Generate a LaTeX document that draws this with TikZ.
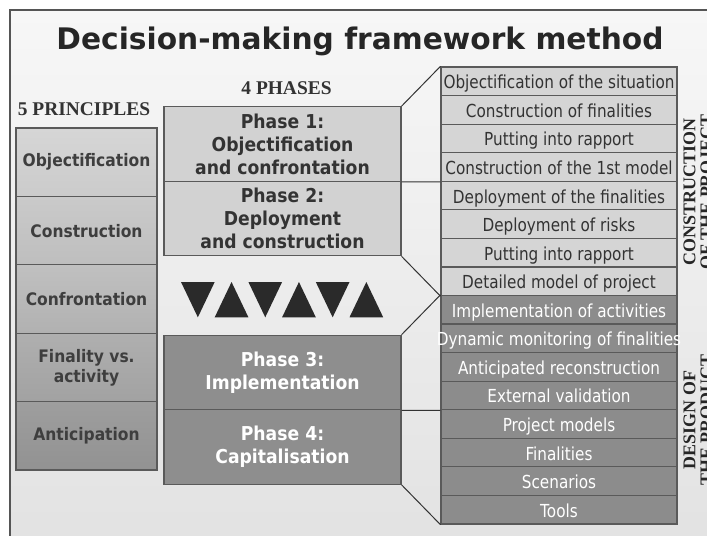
\documentclass[tikz,border=0pt]{standalone}
\usepackage{fontspec}
\setmainfont{DejaVu Sans}
\newfontfamily\titlefont{DejaVu Sans}
\newfontfamily\boxfont{DejaVu Sans}[FakeStretch=0.9]
\newfontfamily\rowfont{DejaVu Sans}[FakeStretch=0.85]
\newfontfamily\serifbold{Liberation Serif}
\definecolor{framecol}{HTML}{555555}
\definecolor{bgtop}{HTML}{F7F7F7}
\definecolor{bgbot}{HTML}{E2E2E2}
\definecolor{lightfill}{HTML}{D2D2D2}
\definecolor{darkfill}{HTML}{8E8E8E}
\definecolor{rowlightfill}{HTML}{D5D5D5}
\definecolor{rowdarkfill}{HTML}{8C8C8C}
\definecolor{edgecol}{HTML}{5A5A5A}
\definecolor{txtdark}{HTML}{333333}
\definecolor{princtxt}{HTML}{3E3E3E}
\definecolor{tricol}{HTML}{2A2A2A}
\definecolor{conncol}{HTML}{333333}
\definecolor{pAt}{HTML}{D6D6D6}\definecolor{pAb}{HTML}{CBCBCB}
\definecolor{pBt}{HTML}{CACACA}\definecolor{pBb}{HTML}{BEBEBE}
\definecolor{pCt}{HTML}{C0C0C0}\definecolor{pCb}{HTML}{B1B1B1}
\definecolor{pDt}{HTML}{AFAFAF}\definecolor{pDb}{HTML}{A2A2A2}
\definecolor{pEt}{HTML}{9E9E9E}\definecolor{pEb}{HTML}{929292}
\begin{document}
\begin{tikzpicture}[x=1bp,y=-1bp,
  princ/.style={draw=edgecol, line width=1.2bp, minimum width=141bp, minimum height=68.4bp,
    inner sep=0pt, align=center, text=princtxt, font=\boxfont\bfseries\fontsize{17.3}{20}\selectfont},
  phaselight/.style={draw=edgecol, line width=1.2bp, fill=lightfill, minimum width=237bp, minimum height=74.5bp,
    inner sep=0pt, align=center, text=txtdark, font=\boxfont\bfseries\fontsize{19.2}{23}\selectfont},
  phasedark/.style={phaselight, fill=darkfill, text=white},
  rowlight/.style={draw=edgecol, line width=1.2bp, fill=rowlightfill, minimum width=236bp, minimum height=28.56bp,
    inner sep=0pt, text height=15bp, text depth=0bp, text=txtdark, font=\rowfont\fontsize{18}{20}\selectfont},
  rowdark/.style={rowlight, fill=rowdarkfill, text=white},
  heading/.style={text=txtdark, inner sep=0pt, font=\serifbold\bfseries\fontsize{19.5}{22}\selectfont},
  sidelabel/.style={text=black!85, inner sep=0pt, align=center, rotate=90, font=\serifbold\bfseries\fontsize{18}{17}\selectfont},
  conn/.style={draw=conncol, line width=1bp}
]
\useasboundingbox (0,0) rectangle (707,536);
\clip (0,0) rectangle (707,536);
\fill[white] (0,0) rectangle (707,536);
\draw[framecol, line width=2bp, top color=bgtop, bottom color=bgbot] (10,10) rectangle (720,550);

\node[anchor=base, inner sep=0pt, text=black!85, font=\titlefont\bfseries\fontsize{29.8}{34}\selectfont] (title) at (360,50) {Decision-making framework method};
\node[heading, anchor=base] (phases) at (286.5,95) {4 PHASES};
\node[heading, anchor=base] (principles) at (84,116) {5 PRINCIPLES};

% principles
\node[princ, top color=pAt, bottom color=pAb] (p1) at (86.5,162.2) {Objectification};
\node[princ, top color=pBt, bottom color=pBb] (p2) at (86.5,230.6) {Construction};
\node[princ, top color=pCt, bottom color=pCb] (p3) at (86.5,299.0) {Confrontation};
\node[princ, top color=pDt, bottom color=pDb] (p4) at (86.5,367.4) {Finality vs.\\activity};
\node[princ, top color=pEt, bottom color=pEb] (p5) at (86.5,435.8) {Anticipation};

% phases
\node[phaselight] (ph1) at (282.5,144.0) {Phase 1:\\Objectification\\and confrontation};
\node[phaselight] (ph2) at (282.5,218.5) {Phase 2:\\Deployment\\and construction};
\node[phasedark] (ph3) at (282.5,372.5) {Phase 3:\\Implementation};
\node[phasedark] (ph4) at (282.5,447.0) {Phase 4:\\Capitalisation};

% triangles
\foreach \k in {0,1,2} {
  \fill[tricol] ({181+67.4*\k},282) -- ({214.7+67.4*\k},282) -- ({197.85+67.4*\k},317.3) -- cycle;
  \fill[tricol] ({214.7+67.4*\k},317.3) -- ({248.4+67.4*\k},317.3) -- ({231.55+67.4*\k},282) -- cycle;
}

% rows
\foreach \t [count=\i] in {Objectification of the situation, Construction of finalities, Putting into rapport, Construction of the 1st model, Deployment of the finalities, Deployment of risks, Putting into rapport, Detailed model of project}
  \node[rowlight] (r\i) at (559,{67+(\i-0.5)*28.5625}) {\makebox[0pt]{\t}};
\foreach \t [count=\i from 9] in {Implementation of activities, Dynamic monitoring of finalities, Anticipated reconstruction, External validation, Project models, Finalities, Scenarios, Tools}
  \node[rowdark] (r\i) at (559,{67+(\i-0.5)*28.5625}) {\makebox[0pt]{\t}};

% connectors
\draw[conn] (ph1.north east) -- (r1.north west);
\draw[conn] (ph1.south east) -- (r4.south west);
\draw[conn] (ph2.south east) -- (r8.south west);
\draw[conn] (ph3.north east) -- (r9.north west);
\draw[conn] (ph3.south east) -- (r12.south west);
\draw[conn] (ph4.south east) -- (r16.south west);

% side labels
\node[sidelabel] (lab1) at (698,192) {CONSTRUCTION\\OF THE PROJECT};
\node[sidelabel] (lab2) at (698,420) {DESIGN OF\\THE PRODUCT};
\end{tikzpicture}
\end{document}
